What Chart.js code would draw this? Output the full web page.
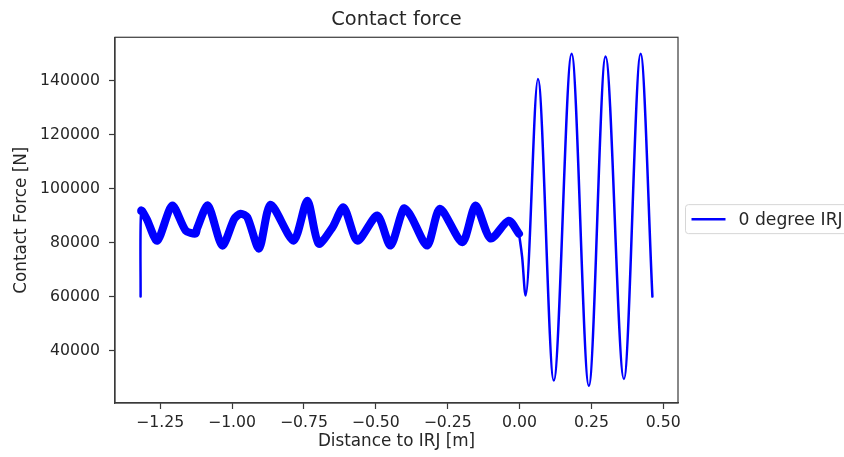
<!DOCTYPE html>
<html><head><meta charset="utf-8">
<script src="https://cdn.jsdelivr.net/npm/chart.js@4"></script>
<style>html,body{margin:0;padding:0;background:#fff}#c{display:block}</style>
</head><body>
<canvas id="c" width="844" height="457"></canvas>
<script>
// ---- data ----
const distance = [-1.318, -1.316, -1.297, -1.260, -1.208, -1.161, -1.127, -1.122, -1.084, -1.034, -0.992, -0.970, -0.947, -0.906,
  -0.866, -0.786, -0.738, -0.699, -0.651, -0.612, -0.564, -0.495, -0.449, -0.403, -0.379, -0.321, -0.277, -0.199,
  -0.153, -0.101, -0.038, -0.002, 0.009, 0.021, 0.064, 0.119, 0.181, 0.241, 0.299, 0.363, 0.421, 0.462];
const contactForce = [60000, 91800, 88800, 80700, 93700, 84400, 83300, 85100, 93700, 78900, 88800, 90700, 89400, 77800,
  94000, 80700, 95500, 79600, 85600, 93000, 80700, 90000, 78900, 92600, 90000, 78900, 92500, 80100,
  93700, 81500, 88100, 83300, 74600, 60400, 140600, 28900, 149900, 27000, 148900, 29500, 149900, 60000];
const xTickValues = [-1.25, -1.00, -0.75, -0.50, -0.25, 0.00, 0.25, 0.50];
const yTickValues = [40000, 60000, 80000, 100000, 120000, 140000];
const seriesLabel = '0 degree IRJ';
const chartTitle = 'Contact force';
const xTitle = 'Distance to IRJ [m]';
const yTitle = 'Contact Force [N]';

const FONT = 'DejaVu Sans';
const TEXT = '#262626';
const AXIS = '#3a3a3a';
const BLUE = '#0000ff';

// the noisy approach section (before the joint) and the post-joint oscillation
const points = distance.map((x, i) => ({ x: x, y: contactForce[i] }));
const approach = points.filter(p => p.x <= -0.002);
const afterJoint = points.filter(p => p.x >= -0.002);

const framePlugin = {
  id: 'frame',
  afterDraw(chart) {
    const a = chart.chartArea, c = chart.ctx;
    c.save();
    c.strokeStyle = AXIS; c.lineWidth = 1.2;
    c.strokeRect(a.left, a.top, a.right - a.left, a.bottom - a.top);
    c.restore();
  }
};

const legendPlugin = {
  id: 'boxLegend',
  afterDraw(chart) {
    const c = chart.ctx, a = chart.chartArea;
    const cy = (a.top + a.bottom) / 2 - 1;
    const x0 = a.right + 7.5, h = 29, y0 = cy - h / 2;
    c.save();
    c.fillStyle = 'rgba(255,255,255,0.8)';
    c.strokeStyle = '#d6d6d6'; c.lineWidth = 1;
    c.beginPath();
    c.roundRect(x0, y0, 200, h, 3);
    c.fill(); c.stroke();
    c.strokeStyle = BLUE; c.lineWidth = 2.5;
    c.beginPath(); c.moveTo(x0 + 6, cy); c.lineTo(x0 + 40, cy); c.stroke();
    c.fillStyle = TEXT;
    c.font = '17.2px "' + FONT + '"';
    c.textBaseline = 'middle'; c.textAlign = 'left';
    c.fillText(seriesLabel, x0 + 53, cy + 1);
    c.restore();
  }
};

const fmtX = v => v.toFixed(2).replace('-', '\u2212');

new Chart(document.getElementById('c'), {
  type: 'line',
  data: {
    datasets: [{
      label: seriesLabel,
      data: approach,
      borderColor: BLUE,
      backgroundColor: BLUE,
      borderWidth: 8,
      pointRadius: 0,
      fill: false,
      tension: 0.25,
      borderJoinStyle: 'round',
      borderCapStyle: 'round',
      segment: { borderWidth: ctx => ctx.p0DataIndex === 0 ? 2.5 : 8 }
    }, {
      label: seriesLabel,
      data: afterJoint,
      borderColor: BLUE,
      backgroundColor: BLUE,
      borderWidth: 2.5,
      pointRadius: 0,
      fill: false,
      cubicInterpolationMode: 'monotone',
      borderJoinStyle: 'round',
      borderCapStyle: 'round'
    }]
  },
  options: {
    responsive: false,
    animation: false,
    devicePixelRatio: 1,
    layout: { padding: { left: 0, right: 166, top: 0, bottom: 0 } },
    plugins: {
      legend: { display: false },
      tooltip: { enabled: false },
      title: {
        display: true, text: chartTitle, fullSize: false, color: TEXT,
        font: { family: FONT, size: 19.4, weight: 'normal' },
        padding: { top: 8, bottom: 6 }
      }
    },
    scales: {
      x: {
        type: 'linear', min: -1.407, max: 0.551,
        afterBuildTicks: s => { s.ticks = xTickValues.map(v => ({ value: v })); },
        afterFit: s => { s.height = 54; },
        grid: { display: true, drawOnChartArea: false, drawTicks: true, tickLength: 6, tickColor: AXIS, tickWidth: 1.2 },
        border: { display: true, color: AXIS, width: 1.2 },
        ticks: { color: TEXT, font: { family: FONT, size: 15.7 }, padding: 5, maxRotation: 0, autoSkip: false, callback: v => fmtX(v) },
        title: { display: true, text: xTitle, color: TEXT, font: { family: FONT, size: 16.8 }, padding: { top: 0, bottom: 5 } }
      },
      y: {
        type: 'linear', min: 20600, max: 156000,
        afterBuildTicks: s => { s.ticks = yTickValues.map(v => ({ value: v })); },
        afterFit: s => { s.width = 115; },
        grid: { display: true, drawOnChartArea: false, drawTicks: true, tickLength: 6, tickColor: AXIS, tickWidth: 1.2 },
        border: { display: true, color: AXIS, width: 1.2 },
        ticks: { color: TEXT, font: { family: FONT, size: 15.7 }, padding: 9, autoSkip: false, callback: v => String(v) },
        title: { display: true, text: yTitle, color: TEXT, font: { family: FONT, size: 16.8 }, padding: { top: 12, bottom: 0 } }
      }
    }
  },
  plugins: [framePlugin, legendPlugin]
});
</script>
</body></html>
